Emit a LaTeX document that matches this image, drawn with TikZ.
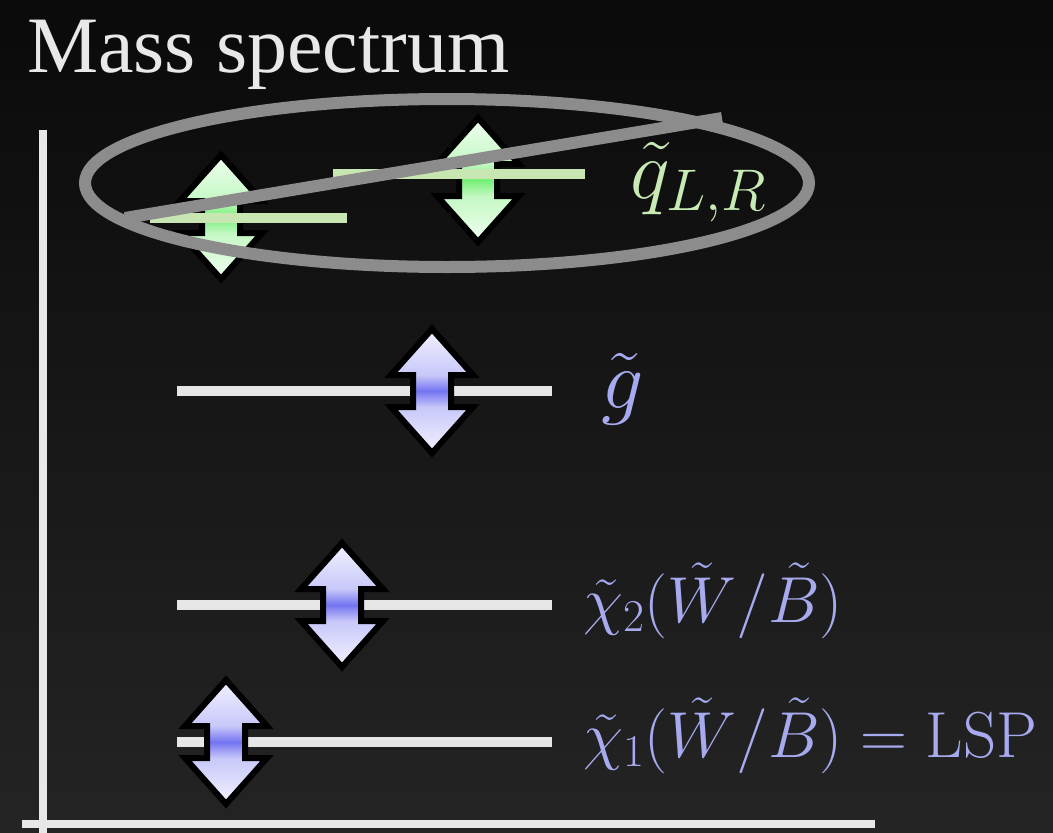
\RequirePackage{fix-cm}
\documentclass[tikz,border=0pt]{standalone}
\usepackage[no-math]{fontspec}
\newfontfamily\titlefont{Liberation Serif}
\usepackage{amsmath}
\usetikzlibrary{calc}

\definecolor{bgtop}{HTML}{0A0A0A}
\definecolor{bgbottom}{HTML}{242424}
\definecolor{axisgray}{HTML}{E8E8E8}
\definecolor{levelgray}{HTML}{E6E6E6}
\definecolor{sqgreen}{HTML}{C8E6B2}
\definecolor{crossgray}{HTML}{8C8C8C}
\definecolor{lblblue}{HTML}{A8AAF0}
\definecolor{lblgreen}{HTML}{C8EAB4}
\definecolor{blueA}{HTML}{F2F2FF}
\definecolor{blueB}{HTML}{C8C8FA}
\definecolor{blueC}{HTML}{7474F2}
\definecolor{greenA}{HTML}{F0FFF0}
\definecolor{greenB}{HTML}{C4F8C4}
\definecolor{greenC}{HTML}{74F074}

\pgfdeclareverticalshading{bluearrow}{100bp}{color(0bp)=(blueA); color(25bp)=(blueA); color(43.5bp)=(blueB); color(50bp)=(blueC); color(56.5bp)=(blueB); color(75bp)=(blueA); color(100bp)=(blueA)}
\pgfdeclareverticalshading{greenarrow}{100bp}{color(0bp)=(greenA); color(25bp)=(greenA); color(43.5bp)=(greenB); color(50bp)=(greenC); color(56.5bp)=(greenB); color(75bp)=(greenA); color(100bp)=(greenA)}

\begin{document}
\begin{tikzpicture}[
    x=1pt, y=-1pt,
    axisline/.style={draw=axisgray, line width=8pt},
    level/.style={draw=levelgray, line width=10pt},
    sqlevel/.style={draw=sqgreen, line width=10pt},
    crossout/.style={draw=crossgray, line width=12pt},
    lbl/.style={anchor=base west, inner sep=0pt, font=\fontsize{65}{65}\selectfont},
    biglbl/.style={lbl, font=\fontsize{84}{84}\selectfont},
    pics/updown/.style={code={
        \shadedraw[shading=#1, draw=black, line width=6pt, miter limit=10]
            (0,-62) -- (41,-16) -- (19,-16) -- (19,16) -- (41,16) -- (0,62)
            -- (-41,16) -- (-19,16) -- (-19,-16) -- (-41,-16) -- cycle;
    }}
]
    \useasboundingbox (0,0) rectangle (1053,833);
    \shade[top color=bgtop, bottom color=bgbottom] (0,0) rectangle (1053,833);

    % Title
    \node[anchor=base west, inner sep=0pt, text=axisgray, font=\titlefont\fontsize{80}{82}\selectfont] (title) at (27,72) {Mass spectrum};

    % Axes
    \draw[axisline] (43,130) -- (43,840);
    \draw[axisline] (22,824) -- (875,824);

    % Gluino
    \draw[level] (177,391) -- (552,391);
    \pic at (432,391) {updown=bluearrow};
    \node[biglbl, text=lblblue] (gluino) at (601,408) {$\tilde g$};

    % Neutralinos
    \draw[level] (177,605) -- (552,605);
    \pic at (342,605) {updown=bluearrow};
    \node[lbl, text=lblblue] (chi2) at (583,622) {$\tilde\chi_2(\tilde W/\tilde B)$};

    \draw[level] (177,742) -- (552,742);
    \pic at (226,742) {updown=bluearrow};
    \node[lbl, text=lblblue] (chi1) at (583,757) {$\tilde\chi_1(\tilde W/\tilde B) = \mathrm{LSP}$};

    % Squarks (crossed out)
    \pic at (221,217) {updown=greenarrow};
    \pic at (478,180) {updown=greenarrow};
    \draw[sqlevel] (150,218) -- (347,218);
    \draw[sqlevel] (333,174) -- (585,174);
    \node[biglbl, text=lblgreen] (squark) at (630,198) {$\tilde q_{L,R}$};

    \draw[crossout] (447,183) ellipse (362 and 84);
    \draw[crossout] (125,218) -- (722,118);
\end{tikzpicture}
\end{document}
